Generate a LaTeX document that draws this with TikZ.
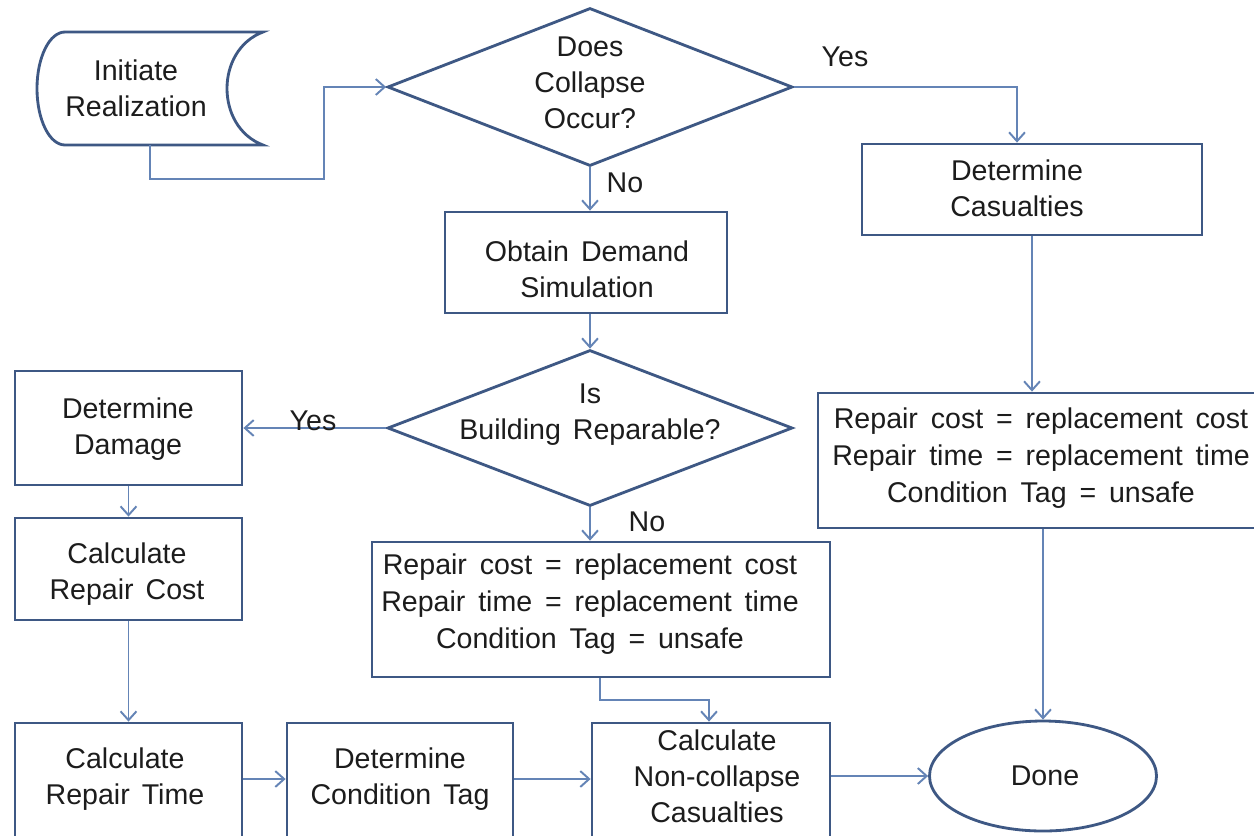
\documentclass[tikz,border=0pt]{standalone}
\usepackage{fontspec}
\setmainfont{Liberation Sans}
\usetikzlibrary{shapes.geometric,arrows.meta,calc}
\definecolor{bordc}{RGB}{62,88,132}
\definecolor{connc}{RGB}{100,132,182}
\definecolor{txtc}{RGB}{28,28,28}
\newcommand\myfontA{\fontsize{16.2}{20.5}\selectfont\spaceskip 0.42em plus 0.1em\relax}
\newcommand\myfontB{\fontsize{16.2}{21}\selectfont\spaceskip 0.45em plus 0.1em\relax}
\begin{document}
\begin{tikzpicture}[x=0.567pt,y=-0.567pt,
  txt/.style={font=\myfontA, text=txtc, align=center, inner sep=0pt},
  txtw/.style={txt, font=\myfontB},
  bx/.style 2 args={draw=bordc, line width=1.6pt, rectangle, fill=white, inner sep=0pt,
     minimum width=#1*0.567pt, minimum height=#2*0.567pt},
  dia/.style={draw=bordc, line width=1.6pt, diamond, fill=white, inner sep=0pt,
     minimum width=405*0.567pt, minimum height=158*0.567pt},
  conn/.style={draw=connc, line width=1.1pt, -{Straight Barb[length=5pt,width=9pt,line width=1.1pt]}},
  lbl/.style={font=\myfontA, text=txtc, inner sep=0pt}
]
\useasboundingbox (0,0) rectangle (1254,835);
\fill[white] (0,0) rectangle (1254,835);

% start shape
\draw[bordc, line width=1.6pt, fill=white]
  (65,32) -- (263,32) .. controls (215,50) and (215,127) .. (263,145)
  -- (65,145) .. controls (49.5,145) and (37,119.7) .. (37,88.5)
  .. controls (37,57.3) and (49.5,32) .. (65,32) -- cycle;
\node[inner sep=0pt, minimum width=226*0.567pt, minimum height=113*0.567pt] (init) at (150,88.5) {};
\node[txt] (init-t) at (136,88) {Initiate\\Realization};

% diamonds
\node[dia] (d1) at (590,87) {};
\node[txt] (d1-t) at (590,83) {Does\\Collapse\\Occur?};
\node[dia, minimum height=156*0.567pt] (d2) at (590,428) {};
\node[txt] (d2-t) at (590,415) {Is\\Building Reparable?};

% boxes
\node[bx={340}{91}] (cas) at (1032,189.5) {};
\node[txt] (cas-t) at (1017,188) {Determine\\Casualties};
\node[bx={282}{101}] (obt) at (586,262.5) {};
\node[txt] (obt-t) at (587,269) {Obtain Demand\\Simulation};
\node[bx={227}{114}] (dam) at (128.5,428) {};
\node[txt] (dam-t) at (128,429) {Determine\\Damage};
\node[bx={227}{102}] (rc) at (128.5,569) {};
\node[txt] (rc-t) at (127,574) {Calculate\\Repair Cost};
\node[bx={458}{135}] (mrep) at (601,609.5) {};
\node[txtw] (mrep-t) at (590,604) {Repair cost = replacement cost\\Repair time = replacement time\\Condition Tag = unsafe};
\node[bx={442}{135}] (rrep) at (1039,460.5) {};
\node[txtw] (rrep-t) at (1041,458) {Repair cost = replacement cost\\Repair time = replacement time\\Condition Tag = unsafe};
\node[bx={227}{122}] (rt) at (128.5,784) {};
\node[txt] (rt-t) at (125,779.5) {Calculate\\Repair Time};
\node[bx={226}{122}] (ct) at (400,784) {};
\node[txt] (ct-t) at (400,779.5) {Determine\\Condition Tag};
\node[bx={238}{122}] (nc) at (711,784) {};
\node[txt] (nc-t) at (717,776) {Calculate\\Non-collapse\\Casualties};
\node[draw=bordc, line width=1.6pt, ellipse, fill=white, inner sep=0pt,
      minimum width=227*0.567pt, minimum height=110*0.567pt] (done) at (1043,776) {};
\node[txt] (done-t) at (1045,776) {Done};

% connectors
\draw[conn] (init.south) -- ++(0,34) -| ($(d1.west)+(-62,0)$) -- (d1.west);
\draw[conn] (d1.east) -| ($(cas.north)+(-15,0)$);
\draw[conn] (d1.south) -- (d1.south |- obt.north);
\draw[conn] (obt.south -| d2.north) -- (d2.north);
\draw[conn] (d2.west) -- (dam.east);
\draw[conn] (dam.south) -- (rc.north);
\draw[conn] (rc.south) -- (rt.north);
\draw[conn] (d2.south) -- (d2.south |- mrep.north);
\draw[conn] (cas.south) -- (cas.south |- rrep.north);
\draw[conn] (done.north |- rrep.south) -- (done.north);
\draw[conn] ($(mrep.south)+(-1,0)$) -- ++(0,22) -| ($(nc.north)+(-2,0)$);
\draw[conn] ($(rt.east)+(0,-5)$) -- ($(ct.west)+(0,-5)$);
\draw[conn] ($(ct.east)+(0,-5)$) -- ($(nc.west)+(0,-5)$);
\draw[conn] (nc.east |- done.west) -- (done.west);

% labels
\node[lbl] (yes1) at (845,57) {Yes};
\node[lbl] (no1) at (625,183) {No};
\node[lbl] (yes2) at (313,421) {Yes};
\node[lbl] (no2) at (647,522) {No};
\end{tikzpicture}
\end{document}
